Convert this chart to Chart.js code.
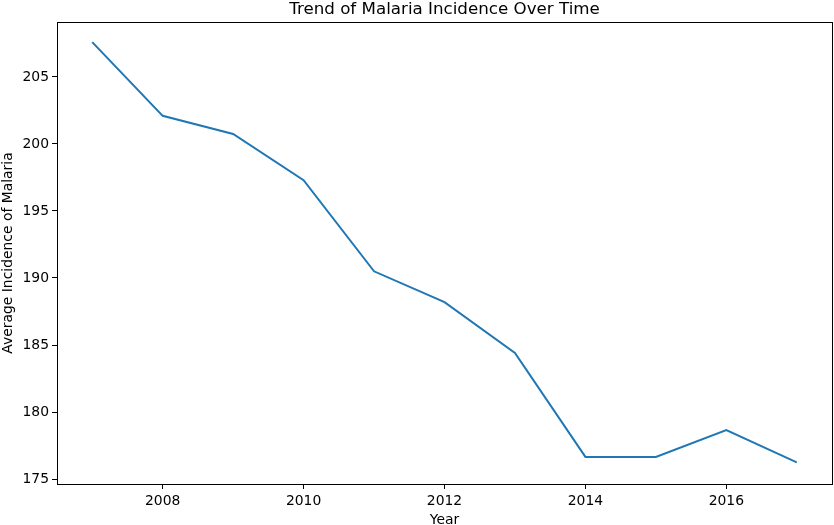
<!DOCTYPE html>
<html>
<head>
<meta charset="utf-8">
<script src="https://cdn.jsdelivr.net/npm/chart.js@4.4.0/dist/chart.umd.min.js"></script>
<style>
  html, body { margin: 0; padding: 0; background: #fff; }
  #wrap { width: 834px; height: 525px; }
</style>
</head>
<body>
<div id="wrap"><canvas id="chart" width="834" height="525"></canvas></div>
<script>
// values
const years = [2007, 2008, 2009, 2010, 2011, 2012, 2013, 2014, 2015, 2016, 2017];
const incidence = [207.6, 202.1, 200.75, 197.3, 190.5, 188.2, 184.4, 176.65, 176.65, 178.65, 176.25];
const xTicks = [2008, 2010, 2012, 2014, 2016];
const yTicks = [175, 180, 185, 190, 195, 200, 205];

const FONT = 'DejaVu Sans';

// top and right spines
const frame = {
  id: 'frame',
  afterDraw(chart) {
    const { ctx, chartArea: a } = chart;
    ctx.save();
    ctx.strokeStyle = '#000';
    ctx.lineWidth = 1;
    ctx.strokeRect(a.left + 0.5, a.top + 0.5, a.right - a.left, a.bottom - a.top);
    ctx.restore();
  }
};

new Chart(document.getElementById('chart').getContext('2d'), {
  type: 'line',
  data: {
    datasets: [{
      data: years.map((y, i) => ({ x: y, y: incidence[i] })),
      borderColor: '#1f77b4',
      borderWidth: 2,
      pointRadius: 0,
      tension: 0,
      fill: false
    }]
  },
  options: {
    responsive: false,
    animation: false,
    layout: { padding: { left: 0, right: 2, top: 0, bottom: 0 } },
    plugins: {
      legend: { display: false },
      tooltip: { enabled: false },
      title: { display: false }
    },
    scales: {
      // top axis only carries the title, so it is centred over the plot like matplotlib
      top: {
        type: 'linear',
        position: 'top',
        min: 2006.5,
        max: 2017.5,
        afterFit: s => { s.height = 22; },
        grid: { display: false },
        border: { display: false },
        ticks: { display: false },
        title: {
          display: true,
          text: 'Trend of Malaria Incidence Over Time',
          color: '#000',
          font: { family: FONT, size: 16.7, weight: 'normal' },
          padding: { top: 0, bottom: 4 }
        }
      },
      x: {
        type: 'linear',
        min: 2006.5,
        max: 2017.5,
        afterBuildTicks: s => { s.ticks = xTicks.map(v => ({ value: v })); },
        afterFit: s => { s.height = 41; },
        grid: { drawOnChartArea: false, drawTicks: true, tickLength: 5, color: '#000' },
        border: { display: true, color: '#000' },
        ticks: {
          color: '#000',
          font: { family: FONT, size: 13.9 },
          padding: 4,
          maxRotation: 0,
          callback: v => String(v)
        },
        title: {
          display: true,
          text: 'Year',
          color: '#000',
          font: { family: FONT, size: 13.9 },
          padding: { top: 0, bottom: -4 }
        }
      },
      y: {
        min: 174.63,
        max: 209.1,
        afterBuildTicks: s => { s.ticks = yTicks.map(v => ({ value: v })); },
        afterFit: s => { s.width = 57; },
        grid: { drawOnChartArea: false, drawTicks: true, tickLength: 5, color: '#000' },
        border: { display: true, color: '#000' },
        ticks: {
          color: '#000',
          font: { family: FONT, size: 13.9 },
          padding: 3,
          callback: v => String(v)
        },
        title: {
          display: true,
          text: 'Average Incidence of Malaria',
          color: '#000',
          font: { family: FONT, size: 13.9 },
          padding: { top: 0, bottom: 0 }
        }
      }
    }
  },
  plugins: [frame]
});
</script>
</body>
</html>
